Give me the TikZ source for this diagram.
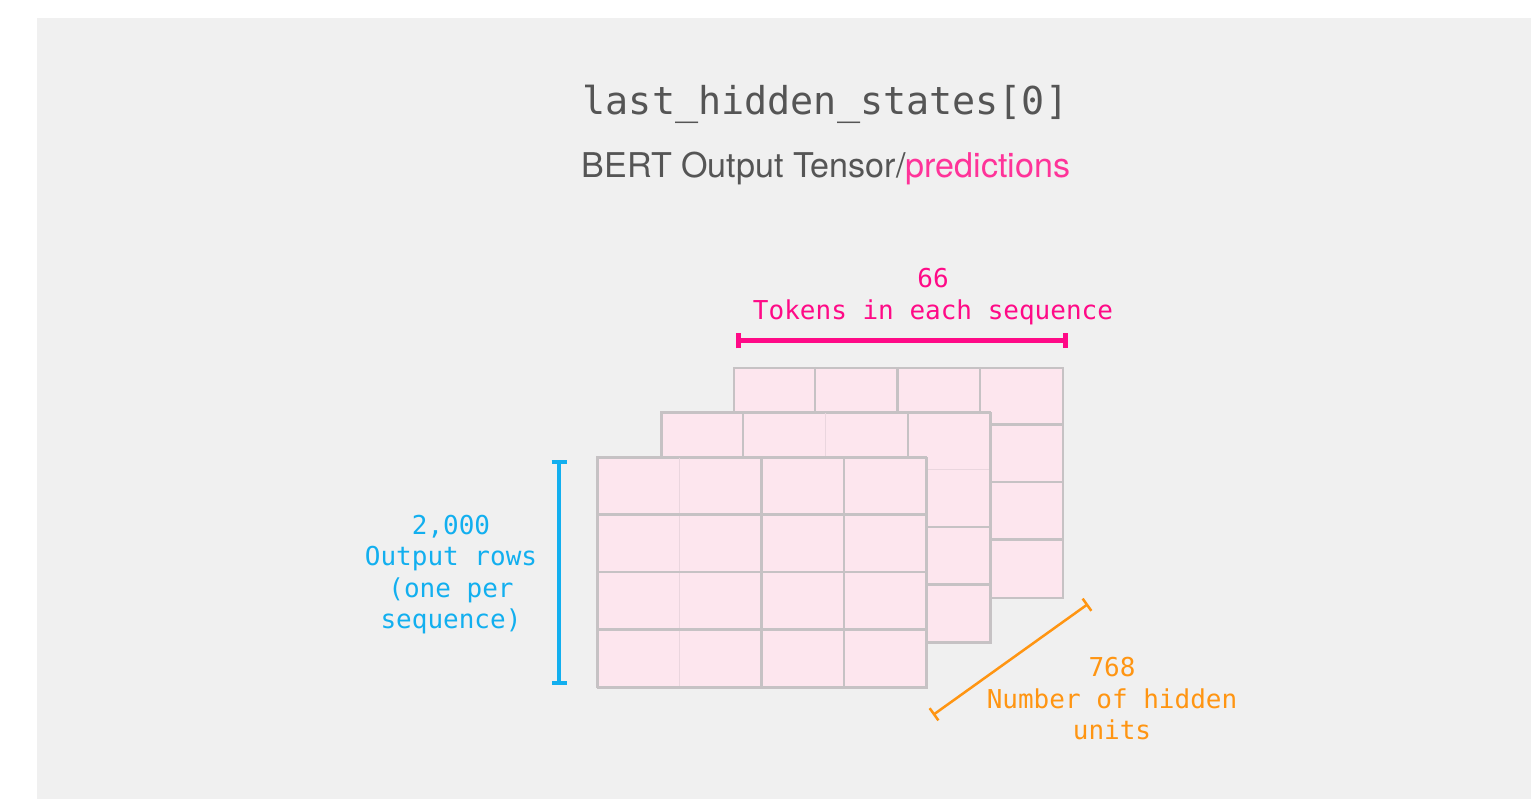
\documentclass[tikz,border=0pt]{standalone}
\usepackage{fontspec}
\setmainfont{TeX Gyre Heros}
\newfontfamily\codefont{DejaVu Sans Mono}
\usetikzlibrary{arrows.meta}

\definecolor{bggray}{HTML}{F0F0F0}
\definecolor{cellpink}{HTML}{FDE6EE}
\definecolor{gridgray}{HTML}{C6C2C4}
\definecolor{faintline}{HTML}{EAD6DE}
\definecolor{titlegray}{HTML}{555555}
\definecolor{hotpink}{HTML}{FF0A87}
\definecolor{predpink}{HTML}{FF3399}
\definecolor{skyblue}{HTML}{12AFEF}
\definecolor{dimorange}{HTML}{FF9512}

\tikzset{
  sheet/.style={draw=gridgray, line width=2.2pt, fill=cellpink,
    minimum width=329pt, minimum height=230pt, inner sep=0pt,
    anchor=north west},
  cellline/.style={draw=gridgray, line width=2.2pt},
  faint/.style={draw=faintline, line width=1.2pt},
  dimlabel/.style={font=\codefont\fontsize{26}{31.5}\selectfont,
    align=center, inner sep=0pt},
  dimbar/.style={line width=#1, {Bar[width=15pt,length=0pt]}-{Bar[width=15pt,length=0pt]}},
}

\begin{document}
\begin{tikzpicture}[x=1pt,y=-1pt]
\useasboundingbox (0,0) rectangle (1531,799);
\fill[bggray] (37,18) rectangle (1531,799);

% title and subtitle
\node[font=\codefont\fontsize{38.4}{46}\selectfont, text=titlegray,
      anchor=base, inner sep=0pt] (title) at (825.5,115)
      {last\_hidden\_states[0]};
\node[font=\fontsize{34.1}{40}\selectfont, text=titlegray,
      anchor=base, inner sep=0pt] (subtitle) at (826,178)
      {BERT Output Tensor/\textcolor{predpink}{predictions}};

% back sheet
\node[sheet] (back) at (733,367) {};
\foreach \i in {1,2,3} {
  \draw[cellline] (733+\i*82.25,367) -- ++(0,230);
  \draw[cellline] (733,367+\i*57.5) -- ++(329,0);
}

% middle sheet
\node[sheet] (middle) at (661,412) {};
\draw[faint] (661,412+57.5) -- ++(329,0);
\draw[faint] (661+2*82.25,412) -- ++(0,230);
\foreach \i in {2,3} \draw[cellline] (661,412+\i*57.5) -- ++(329,0);
\foreach \i in {1,3} \draw[cellline] (661+\i*82.25,412) -- ++(0,230);
\draw[cellline] (661,412) rectangle ++(329,230);

% front sheet
\node[sheet] (front) at (597,457) {};
\draw[faint] (597+82.25,457) -- ++(0,230);
\foreach \i in {2,3} \draw[cellline] (597+\i*82.25,457) -- ++(0,230);
\foreach \i in {1,2,3} \draw[cellline] (597,457+\i*57.5) -- ++(329,0);
\draw[cellline] (597,457) rectangle ++(329,230);

% dimension bars
\coordinate (tokL) at (736,341);
\coordinate (tokR) at (1068,341);
\coordinate (rowT) at (559,460);
\coordinate (rowB) at (559,685);
\coordinate (hidA) at (933,715);
\coordinate (hidB) at (1088,604);

\draw[hotpink, dimbar=5pt] (tokL) -- (tokR);
\draw[skyblue, dimbar=4pt] (rowT) -- (rowB);
\draw[dimorange, dimbar=2.5pt] (hidA) -- (hidB);

% dimension labels
\node[dimlabel, text=hotpink] (toklabel) at (933,296.5)
  {66\\Tokens in each sequence};
\node[dimlabel, text=skyblue] (rowlabel) at (451,574.5)
  {2,000\\Output rows\\(one per\\sequence)};
\node[dimlabel, text=dimorange] (hidlabel) at (1112,699)
  {768\\Number of hidden\\units};
\end{tikzpicture}
\end{document}
